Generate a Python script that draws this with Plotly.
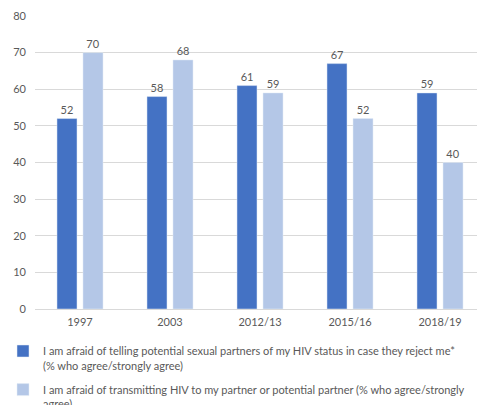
import plotly.graph_objects as go

# Survey waves and percentage of respondents agreeing
years = ["1997", "2003", "2012/13", "2015/16", "2018/19"]
afraid_telling = [52, 58, 61, 67, 59]
afraid_transmitting = [70, 68, 59, 52, 40]

name_telling = ("I am afraid of telling potential sexual partners of my HIV status in case they reject me*"
                "<br>(% who agree/strongly agree)")
name_transmitting = ("I am afraid of transmitting HIV to my partner or potential partner (% who agree/strongly"
                     "<br>agree)")

positions = list(range(len(years)))
text_color = "#595959"
font_family = "Lato, Calibri, Carlito, sans-serif"

fig = go.Figure()
fig.add_trace(go.Bar(
    x=positions, y=afraid_telling, name=name_telling, legendgroup="telling",
    marker=dict(color="#4472C4"),
    text=afraid_telling, textposition="outside",
    textfont=dict(color=text_color, size=11), cliponaxis=False,
))
fig.add_trace(go.Bar(
    x=positions, y=afraid_transmitting, name=name_transmitting, legendgroup="transmitting",
    marker=dict(color="#B4C7E7"),
    text=afraid_transmitting, textposition="outside",
    textfont=dict(color=text_color, size=11), cliponaxis=False,
))

fig.update_layout(
    width=477, height=405,
    margin=dict(l=35, r=0, t=16, b=96, autoexpand=False),
    paper_bgcolor="white", plot_bgcolor="white",
    font=dict(family=font_family, size=11, color=text_color),
    barmode="group", bargap=0.422, bargroupgap=0.23,
    showlegend=True,
    legend=dict(
        xref="container", yref="container",
        x=3 / 477, y=0.167, xanchor="left", yanchor="top",
        valign="top", tracegroupgap=7,
        font=dict(size=11, color=text_color),
        bgcolor="rgba(0,0,0,0)",
    ),
    xaxis=dict(
        tickmode="array", tickvals=positions, ticktext=years,
        range=[-0.5, 4.411], showgrid=False, zeroline=False,
        showline=False, ticks="", ticklabelstandoff=5,
    ),
    yaxis=dict(
        range=[0, 80], dtick=10, showgrid=True, gridcolor="#D9D9D9",
        gridwidth=1, zeroline=True, zerolinecolor="#D9D9D9", zerolinewidth=1,
        ticks="", ticklabelstandoff=8,
    ),
)

fig.write_html("out.html")
